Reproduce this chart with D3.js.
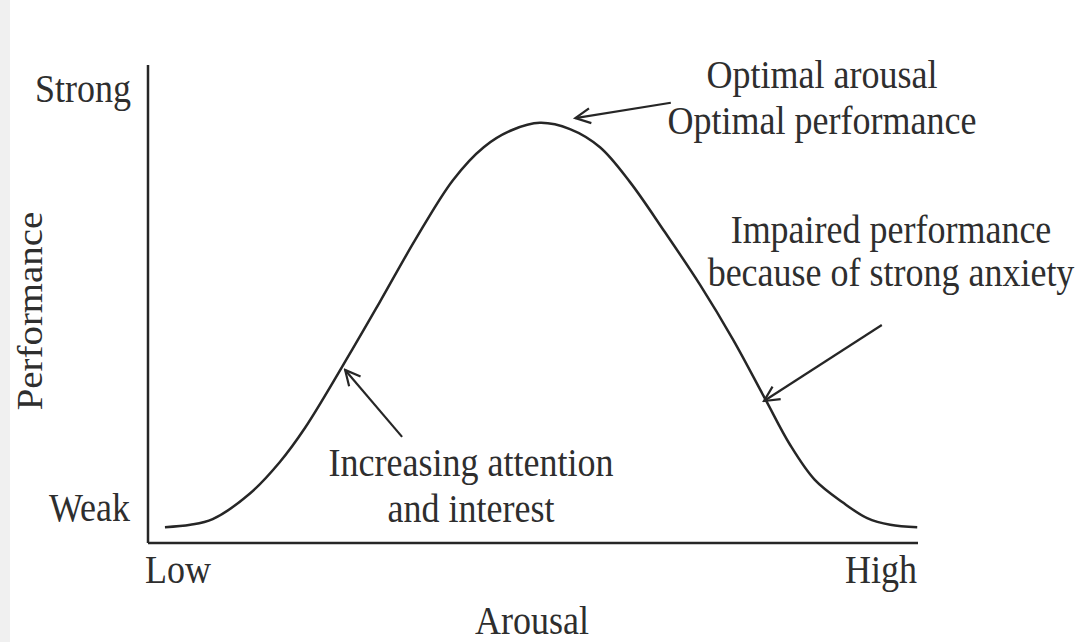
<!DOCTYPE html>
<html>
<head>
<meta charset="utf-8">
<script src="https://cdn.jsdelivr.net/npm/d3@7"></script>
<style>
  body { margin: 0; background: #fff; }
  text { font-family: "Liberation Serif", "DejaVu Serif", serif; fill: #2e2e2e; }
</style>
</head>
<body>
<div id="chart"></div>
<script>
// curve values (arousal 0-100, performance 0-100)
var arousal = [2.2, 5.5, 8.4, 13.2, 17.1, 20.4, 26.5, 30.1, 34.7, 39.6, 43.6, 47.3, 50.9,
               54.8, 58.7, 62.6, 67.1, 71.7, 76.0, 80.1, 83.4, 86.6, 90.3, 93.4, 96.4, 99.9];
var performance = [3.3, 3.8, 5.0, 10.3, 16.9, 24.1, 40.4, 50.4, 63.4, 75.9, 82.8, 86.4, 87.9,
                   86.6, 82.8, 75.5, 65.1, 54.0, 42.5, 30.3, 20.5, 13.2, 8.4, 5.2, 3.8, 3.3];

// axis end labels
var xTickLabels = ["Low", "High"];
var yTickLabels = ["Weak", "Strong"];

// annotation arrows: [tailX, tailY, tipX, tipY] in data units
var arrows = [
  [67.9, 92.1, 55.5, 88.9],
  [95.3, 45.6, 80.0, 29.7],
  [33.0, 22.2, 25.6, 36.2]
];
var notes = [
  ["Optimal arousal", "Optimal performance"],
  ["Impaired performance", "because of strong anxiety"],
  ["Increasing attention", "and interest"]
];

var svgWidth = 1078;
var svgHeight = 642;

var svg = d3.select("#chart")
  .append("svg")
  .attr("width", svgWidth)
  .attr("height", svgHeight);

// light strip on the left edge
svg.append("rect")
  .attr("x", 0).attr("y", 0)
  .attr("width", 10).attr("height", svgHeight)
  .attr("fill", "#f0f0f0");

var x = d3.scaleLinear().domain([0, 100]).range([148, 918]);
var y = d3.scaleLinear().domain([0, 100]).range([543, 65]);

var ink = "#262626";

// axes: plain lines without ticks
svg.append("line")
  .attr("x1", x(0)).attr("y1", y(0))
  .attr("x2", x(0)).attr("y2", y(100))
  .attr("stroke", ink).attr("stroke-width", 2.5);
svg.append("line")
  .attr("x1", x(0)).attr("y1", y(0))
  .attr("x2", x(100)).attr("y2", y(0))
  .attr("stroke", ink).attr("stroke-width", 2.5);

var points = arousal.map(function(a, i) { return [a, performance[i]]; });

var line = d3.line()
  .x(function(d) { return x(d[0]); })
  .y(function(d) { return y(d[1]); })
  .curve(d3.curveCatmullRom);

svg.append("path")
  .datum(points)
  .attr("d", line)
  .attr("fill", "none")
  .attr("stroke", ink)
  .attr("stroke-width", 2.5);

// open arrow head
svg.append("defs").append("marker")
  .attr("id", "head")
  .attr("viewBox", "-18 -9 20 18")
  .attr("refX", 0).attr("refY", 0)
  .attr("markerWidth", 20).attr("markerHeight", 18)
  .attr("markerUnits", "userSpaceOnUse")
  .attr("orient", "auto")
  .append("path")
  .attr("d", "M-15,-7.5 L0,0 L-15,7.5")
  .attr("fill", "none")
  .attr("stroke", ink)
  .attr("stroke-width", 2.2);

svg.selectAll(".arrow")
  .data(arrows)
  .enter()
  .append("line")
  .attr("class", "arrow")
  .attr("x1", function(d) { return x(d[0]); })
  .attr("y1", function(d) { return y(d[1]); })
  .attr("x2", function(d) { return x(d[2]); })
  .attr("y2", function(d) { return y(d[3]); })
  .attr("stroke", ink)
  .attr("stroke-width", 2.2)
  .attr("marker-end", "url(#head)");

var fs = 36;
var stretch = 1.1; // the reference letters are a bit taller than wide

function label(px, py, s, anchor) {
  return svg.append("text")
    .attr("transform", "translate(" + px + "," + py + ") scale(1," + stretch + ")")
    .attr("font-size", fs)
    .attr("text-anchor", anchor)
    .text(s);
}

// tick end labels
label(145, 583, xTickLabels[0], "start");
label(917, 583, xTickLabels[1], "end");
label(130, 521, yTickLabels[0], "end");
label(131, 102, yTickLabels[1], "end");

// axis titles
label(532, 634, "Arousal", "middle");

svg.append("text")
  .attr("transform", "translate(42, 311) rotate(-90) scale(" + 1.08 + ",1)")
  .attr("font-size", fs)
  .attr("text-anchor", "middle")
  .text("Performance");

// annotation text blocks: [centerX, first baseline, line gap]
var noteLayout = [[822, 88, 46], [891, 243, 43], [471, 476, 46]];

notes.forEach(function(lines, i) {
  lines.forEach(function(s, j) {
    label(noteLayout[i][0], noteLayout[i][1] + j * noteLayout[i][2], s, "middle");
  });
});
</script>
</body>
</html>
